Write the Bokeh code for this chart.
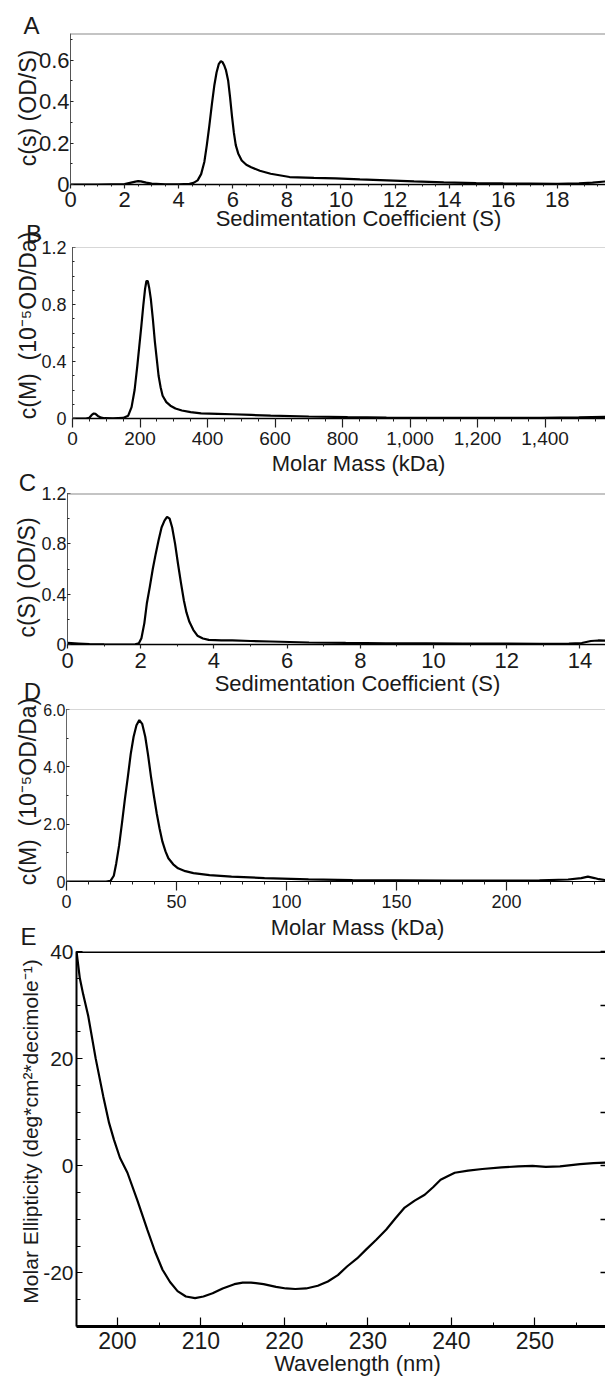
import math
from bokeh.plotting import figure
from bokeh.models import (Label, Span, SingleIntervalTicker, LinearAxis, Range1d,
                          NumeralTickFormatter, CustomJSTickFormatter)
from bokeh.layouts import column, row
from bokeh.embed import file_html
from bokeh.resources import INLINE

FONT = "Liberation Sans"
TXT = "#1a1a1a"

# ---------------- data ----------------
# Panel A: c(s) distribution
a_s = [0, 1.0, 2.0, 2.2, 2.4, 2.5, 2.6, 2.8, 3.0, 3.5, 4.0, 4.4, 4.55, 4.7, 4.83, 4.95,
       5.04, 5.13, 5.23, 5.32, 5.4, 5.48, 5.56, 5.62, 5.68, 5.75, 5.83, 5.9, 5.97, 6.04,
       6.11, 6.2, 6.33, 6.5, 6.68, 7.0, 7.4, 8.1, 9.0, 9.8, 10.7, 11.7, 12.7, 13.8, 15.0,
       16.0, 17.0, 18.0, 18.8, 19.3, 19.8]
a_c = [0, 0, 0.002, 0.008, 0.014, 0.016, 0.015, 0.009, 0.004, 0.001, 0.001, 0.003, 0.008,
       0.02, 0.05, 0.11, 0.19, 0.28, 0.39, 0.48, 0.54, 0.58, 0.595, 0.59, 0.575, 0.55, 0.5,
       0.42, 0.33, 0.25, 0.19, 0.15, 0.116, 0.095, 0.083, 0.066, 0.052, 0.036, 0.032, 0.03,
       0.025, 0.02, 0.015, 0.01, 0.007, 0.005, 0.004, 0.003, 0.005, 0.009, 0.015]

# Panel B: c(M) distribution (kDa)
b_m = [0, 40, 50, 57, 63, 68, 75, 85, 95, 120, 150, 165, 175, 184, 192, 198, 204, 210, 215,
       219, 223, 227, 232, 238, 244, 250, 255, 261, 267, 278, 290, 305, 324, 350, 381, 430,
       473, 530, 587, 700, 815, 930, 1044, 1200, 1387, 1500, 1579]
b_c = [0, 0, 0.005, 0.025, 0.035, 0.032, 0.018, 0.006, 0.002, 0.001, 0.004, 0.02, 0.08, 0.2,
       0.37, 0.51, 0.65, 0.8, 0.91, 0.965, 0.965, 0.92, 0.84, 0.7, 0.54, 0.41, 0.30, 0.22,
       0.16, 0.115, 0.09, 0.07, 0.056, 0.045, 0.036, 0.033, 0.03, 0.025, 0.02, 0.014, 0.01,
       0.007, 0.005, 0.005, 0.005, 0.008, 0.012]

# Panel C: c(S) distribution
c_s = [0, 0.3, 0.6, 1.0, 1.5, 1.85, 1.95, 2.02, 2.1, 2.17, 2.25, 2.33, 2.41, 2.49, 2.57,
       2.65, 2.72, 2.79, 2.86, 2.94, 3.02, 3.1, 3.18, 3.25, 3.33, 3.44, 3.55, 3.7, 3.86, 4.2,
       4.5, 5.0, 5.55, 6.6, 7.6, 8.7, 9.8, 10.8, 11.9, 12.9, 13.7, 14.05, 14.3, 14.5, 14.7]
c_c = [0.013, 0.008, 0.003, 0.001, 0.0, 0.002, 0.01, 0.05, 0.17, 0.33, 0.46, 0.6, 0.72, 0.83,
       0.93, 0.985, 1.015, 1.0, 0.93, 0.8, 0.64, 0.49, 0.35, 0.255, 0.18, 0.115, 0.07, 0.048,
       0.037, 0.033, 0.032, 0.028, 0.024, 0.016, 0.013, 0.01, 0.009, 0.008, 0.007, 0.006,
       0.007, 0.012, 0.028, 0.032, 0.03]

# Panel D: c(M) distribution (kDa)
d_m = [0, 10, 18, 20, 21.5, 22.6, 23.9, 25.2, 26.5, 27.9, 29.2, 30.5, 31.8, 33.1, 34.4,
       35.8, 37.1, 38.4, 39.7, 41.0, 42.3, 43.6, 45, 46.3, 48.5, 50.7, 54, 57.7, 65, 75, 90,
       110, 130, 150, 175, 198, 215, 228, 234, 237, 240, 242, 245]
d_c = [0, 0, 0, 0.02, 0.2, 0.63, 1.25, 2.03, 2.85, 3.66, 4.45, 5.05, 5.45, 5.63, 5.5, 5.05,
       4.4, 3.66, 3.0, 2.38, 1.85, 1.39, 1.05, 0.81, 0.6, 0.46, 0.36, 0.29, 0.22, 0.17, 0.12,
       0.077, 0.05, 0.04, 0.03, 0.03, 0.04, 0.07, 0.12, 0.17, 0.12, 0.08, 0.05]

# Panel E: CD spectrum
e_wl = [195.1, 195.5, 195.9, 196.5, 197.4, 198.3, 199.0, 199.6, 200.3, 201.2, 202.4, 203.6,
        204.5, 205.4, 206.3, 207.2, 208.2, 209.3, 210.3, 211.4, 212.6, 214.0, 215.0, 216.0,
        217.5, 219.0, 220.2, 221.3, 222.6, 224.0, 225.2, 226.4, 227.5, 228.7, 229.8, 231.0,
        232.2, 233.3, 234.4, 235.6, 236.8, 237.8, 238.7, 239.6, 240.4, 242.0, 243.7, 246.0,
        248.0, 249.7, 251.3, 253.0, 255.4, 257.0, 258.4]
e_me = [40, 35, 32, 28, 20, 13, 8, 4.8, 1.5, -1.3, -6.5, -12, -16, -19.4, -21.7, -23.4,
        -24.4, -24.7, -24.4, -23.8, -22.9, -22.1, -21.8, -21.8, -22.1, -22.6, -22.9, -23.0,
        -22.9, -22.4, -21.6, -20.4, -18.8, -17.3, -15.6, -13.8, -11.9, -9.8, -7.8, -6.5,
        -5.4, -4.0, -2.6, -1.9, -1.3, -0.9, -0.6, -0.3, -0.1, 0.0, -0.2, -0.1, 0.3, 0.5, 0.6]

panel_letters = ["A", "B", "C", "D", "E"]
x_titles = ["Sedimentation Coefficient (S)", "Molar Mass (kDa)",
            "Sedimentation Coefficient (S)", "Molar Mass (kDa)", "Wavelength (nm)"]
y_titles = ["c(s) (OD/S)", "c(M)\u00a0 (10\u207b\u2075OD/Da)", "c(S) (OD/S)",
            "c(M)\u00a0 (10\u207b\u2075OD/Da)",
            "Molar Ellipticity (deg*cm\u00b2*decimole\u207b\u00b9)"]

PAGE_W, PAGE_H = 605, 1377


# ---------------- helpers ----------------
def make_fig(h, top, bottom, left, xr, yr):
    p = figure(width=PAGE_W, height=h, x_range=Range1d(*xr), y_range=Range1d(*yr),
               output_backend="svg", toolbar_location=None,
               min_border_left=left, min_border_right=0,
               min_border_top=top, min_border_bottom=bottom)
    p.outline_line_color = None
    p.grid.visible = False
    p.background_fill_color = None
    p.border_fill_color = None
    return p


def style_axis(ax, font_size, tick_in, tick_out, minor_in, minor_out, standoff,
               line_color="black", line_width=1.2, tick_color="#222222"):
    ax.major_label_text_font = FONT
    ax.major_label_text_font_size = font_size
    ax.major_label_text_color = TXT
    ax.major_tick_in = tick_in
    ax.major_tick_out = tick_out
    ax.minor_tick_in = minor_in
    ax.minor_tick_out = minor_out
    ax.major_label_standoff = standoff
    ax.axis_line_color = line_color
    ax.axis_line_width = line_width
    ax.major_tick_line_color = tick_color
    ax.minor_tick_line_color = tick_color
    ax.major_tick_line_width = 1.2
    ax.minor_tick_line_width = 1


def top_line(p, loc, color, width):
    p.add_layout(Span(location=loc, dimension="width", line_color=color, line_width=width))


# ---------------- Panel A ----------------
pA = make_fig(224, 33, 40, 70, (0, 19.78), (0, 0.728))
pA.line(a_s, a_c, line_color="black", line_width=2.2)
pA.xaxis.ticker = SingleIntervalTicker(interval=2, num_minor_ticks=4)
pA.yaxis.ticker = SingleIntervalTicker(interval=0.2, num_minor_ticks=2)
style_axis(pA.xaxis[0], "22px", 0, 4, 0, 2, 3, line_width=1.5)
style_axis(pA.yaxis[0], "22px", 3, 0, 2, 0, 1, line_color="#555555", line_width=1)
top_line(pA, 0.728, "#8a8a8a", 2)

# ---------------- Panel B ----------------
pB = make_fig(249, 23, 55, 72, (0, 1579), (0, 1.2001))
pB.line(b_m, b_c, line_color="black", line_width=2.2)
pB.xaxis.ticker = SingleIntervalTicker(interval=200, num_minor_ticks=4)
pB.xaxis.formatter = NumeralTickFormatter(format="0,0")
pB.yaxis.ticker = SingleIntervalTicker(interval=0.4, num_minor_ticks=4)
pB.yaxis.formatter = CustomJSTickFormatter(code="return tick == 0 ? '0' : tick.toFixed(1);")
style_axis(pB.xaxis[0], "19px", 0, 9, 0, 3, 4, line_width=1.5)
style_axis(pB.yaxis[0], "18px", 3, 0, 2, 0, 6, line_color="#555555", line_width=1)
top_line(pB, 1.2001, "#b0b0b0", 1)

# ---------------- Panel C ----------------
pC = make_fig(226, 20, 55, 67, (0, 14.7), (0, 1.2001))
pC.line(c_s, c_c, line_color="black", line_width=2.2)
pC.xaxis.ticker = SingleIntervalTicker(interval=2, num_minor_ticks=2)
pC.yaxis.ticker = SingleIntervalTicker(interval=0.4, num_minor_ticks=2)
pC.yaxis.formatter = CustomJSTickFormatter(code="return tick == 0 ? '0' : tick.toFixed(1);")
style_axis(pC.xaxis[0], "22px", 0, 4, 0, 2, 4, line_width=1.5)
style_axis(pC.yaxis[0], "18px", 3, 0, 2, 0, 1, line_color="#555555", line_width=1)
top_line(pC, 1.2001, "#8a8a8a", 2)

# ---------------- Panel D ----------------
pD = make_fig(236, 10, 54, 66, (0, 245), (0, 6.0001))
pD.line(d_m, d_c, line_color="black", line_width=2.2)
pD.xaxis.ticker = SingleIntervalTicker(interval=50, num_minor_ticks=5)
pD.yaxis.ticker = SingleIntervalTicker(interval=2.0, num_minor_ticks=2)
pD.yaxis.formatter = CustomJSTickFormatter(code="return tick == 0 ? '0' : tick.toFixed(1);")
style_axis(pD.xaxis[0], "18px", 0, 9, 0, 3, 4, line_width=1.2)
style_axis(pD.yaxis[0], "16px", 3, 0, 2, 0, 1, line_color="#666666", line_width=1)
top_line(pD, 6.0001, "#b0b0b0", 1)

# ---------------- Panel E ----------------
pE = make_fig(442, 16, 51, 76, (195.1, 258.45), (-30, 40))
pE.line(e_wl, e_me, line_color="black", line_width=2.2)
pE.xaxis.ticker = SingleIntervalTicker(interval=10, num_minor_ticks=2)
pE.yaxis.ticker = SingleIntervalTicker(interval=20, num_minor_ticks=4)
pE.yaxis.formatter = CustomJSTickFormatter(code="return tick.toString();")
style_axis(pE.xaxis[0], "23px", 9, 0, 4, 0, 5, line_width=3, tick_color="black")
style_axis(pE.yaxis[0], "21px", 6, 0, 4, 0, 3, line_width=2, tick_color="black")
right_ax = LinearAxis(ticker=SingleIntervalTicker(interval=10, num_minor_ticks=0),
                      major_tick_in=5, major_tick_out=0, major_label_standoff=0,
                      major_label_text_font_size="1px", major_label_text_color=None,
                      axis_line_color=None,
                      major_tick_line_color="black", major_tick_line_width=1.5,
                      minor_tick_line_color=None)
pE.add_layout(right_ax, "right")
top_line(pE, 40, "black", 3)

# ---------------- text overlay (page pixel coordinates) ----------------
ov = figure(width=PAGE_W, height=PAGE_H, x_range=Range1d(0, PAGE_W),
            y_range=Range1d(PAGE_H, 0), output_backend="svg", toolbar_location=None,
            x_axis_location=None, y_axis_location=None,
            min_border_left=0, min_border_right=0, min_border_top=0, min_border_bottom=0)
ov.outline_line_color = None
ov.background_fill_color = None
ov.border_fill_color = None
ov.grid.visible = False


def label(text, x, y, size="22px", angle=0.0):
    ov.add_layout(Label(x=x, y=y, text=text, text_font=FONT, text_font_size=size,
                        text_color=TXT, text_align="center", text_baseline="middle",
                        angle=angle))


ROT = math.pi / 2
letter_pos = [(31, 25), (33.5, 232.5), (27, 482), (32, 690.5), (28, 936)]
xtitle_pos = [(358, 218), (358, 463), (357, 683), (357, 927), (357, 1363)]
ytitle_pos = [(27, 107.5), (27, 325), (26, 577), (27, 791), (30, 1131)]
ytitle_size = ["23px", "23px", "23px", "23px", "21px"]
for i in range(5):
    label(panel_letters[i], *letter_pos[i], size="24px")
    label(x_titles[i], *xtitle_pos[i])
    label(y_titles[i], *ytitle_pos[i], size=ytitle_size[i], angle=ROT)

layout = column(row(pA), row(pB), row(pC), row(pD), row(pE),
                row(ov, margin=(-PAGE_H, 0, 0, 0)))
open("out.html", "w").write(file_html(layout, INLINE))
